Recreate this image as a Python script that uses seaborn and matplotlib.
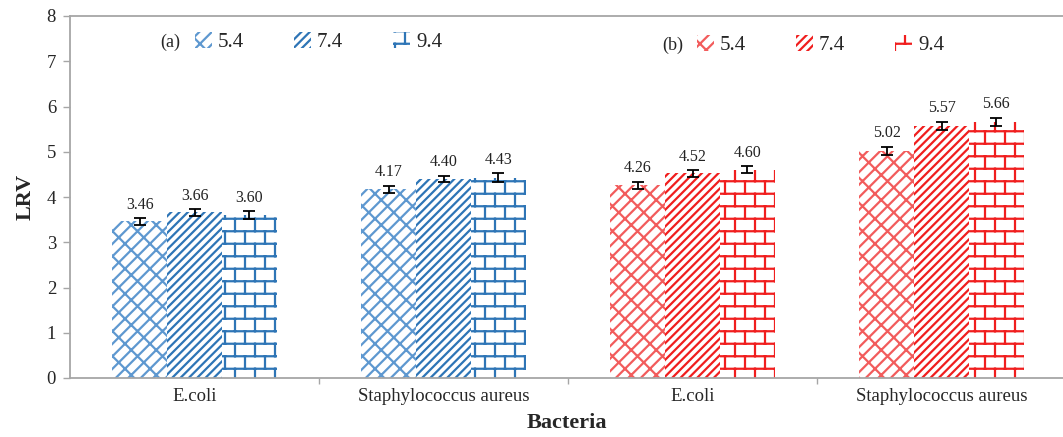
import warnings
warnings.filterwarnings("ignore")
import numpy as np
import pandas as pd
import matplotlib
matplotlib.use("Agg")
import matplotlib.pyplot as plt
import matplotlib.hatch as mhatch
from matplotlib.path import Path
from matplotlib.patches import Patch
import seaborn as sns

# ---------------- data ----------------
categories = ["E.coli", "Staphylococcus aureus", "E.coli", "Staphylococcus aureus"]
panels = ["a", "a", "b", "b"]
ph_levels = ["5.4", "7.4", "9.4"]
lrv_ph54 = [3.46, 4.17, 4.26, 5.02]
lrv_ph74 = [3.66, 4.40, 4.52, 5.57]
lrv_ph94 = [3.60, 4.43, 4.60, 5.66]
err_ph54 = [0.07, 0.08, 0.08, 0.09]
err_ph74 = [0.07, 0.07, 0.07, 0.09]
err_ph94 = [0.08, 0.10, 0.08, 0.09]
yticks = [0, 1, 2, 3, 4, 5, 6, 7, 8]


# ---------------- custom hatches ----------------
class BrickHatch(mhatch.HatchPatternBase):
    """'b' -> horizontal brick pattern"""
    rows, cols = 8, 5

    def __init__(self, hatch, density):
        self.on = hatch.count('b') > 0
        n, m = self.rows, self.cols
        self.num_vertices = (n * 2 + (n + 1) * m * 2) if self.on else 0

    def set_vertices_and_codes(self, vertices, codes):
        n, m = self.rows, self.cols
        v = []
        for i in range(n):
            y = (i + 0.5) / n
            v += [(0.0, y), (1.0, y)]
        for i in range(-1, n):
            y0 = (i + 0.5) / n
            y1 = (i + 1.5) / n
            for j in range(m):
                x = (j + 0.5 * (i % 2) + 0.25) / m
                v += [(x, y0), (x, y1)]
        vertices[:] = np.array(v)
        codes[0::2] = Path.MOVETO
        codes[1::2] = Path.LINETO


class DiagBrickHatch(mhatch.HatchPatternBase):
    """'d' -> diagonal brick pattern"""
    n, m = 8, 8

    def __init__(self, hatch, density):
        self.on = hatch.count('d') > 0
        self.num_vertices = len(self._verts()) if self.on else 0

    def _verts(self):
        n, m = self.n, self.m
        h = 1.0 / n
        v = []
        for k in range(-2 * n, 2 * n):
            c = (k + 0.5) / n
            v += [(-1.5, -1.5 + c), (2.5, 2.5 + c)]
            for j in range(-2 * m, 3 * m):
                u = (j + 0.5 * (k % 2)) / m
                v += [(u, u + c), (u - h / 2, u + c + h / 2)]
        return v

    def set_vertices_and_codes(self, vertices, codes):
        vertices[:] = np.array(self._verts())
        codes[0::2] = Path.MOVETO
        codes[1::2] = Path.LINETO


mhatch._hatch_types.append(BrickHatch)
mhatch._hatch_types.append(DiagBrickHatch)

# ---------------- style ----------------
sns.set_theme(style="white")
plt.rcParams['font.family'] = ['Liberation Serif', 'DejaVu Serif']
plt.rcParams['hatch.linewidth'] = 1.6

BLUE = "#2E75B6"
RED = "#F01E1E"
BLUE_LIGHT = "#5E98D0"
RED_LIGHT = "#F25C5C"
GRAY = "#A6A6A6"
hatches = {"5.4": "d", "7.4": "////", "9.4": "b"}


def bar_color(panel, ph):
    if panel == "a":
        return BLUE_LIGHT if ph == "5.4" else BLUE
    return RED_LIGHT if ph == "5.4" else RED


# ---------------- dataframe ----------------
cat_ids = [f"{c}|{p}" for c, p in zip(categories, panels)]
rows = []
for ph, vals, errs in zip(ph_levels, [lrv_ph54, lrv_ph74, lrv_ph94],
                          [err_ph54, err_ph74, err_ph94]):
    for cid, v, e in zip(cat_ids, vals, errs):
        rows.append({"cat": cid, "pH": ph, "LRV": v, "err": e})
df = pd.DataFrame(rows)

fig = plt.figure(figsize=(10.63, 4.37), dpi=100)
ax = fig.add_axes([70 / 1063, 1 - 378 / 437, 1 - 70 / 1063, (378 - 16) / 437])

sns.barplot(data=df, x="cat", y="LRV", hue="pH", order=cat_ids,
            hue_order=ph_levels, width=0.66, errorbar=None, ax=ax,
            palette=["white"] * 3, legend=False)

for ph, cont in zip(ph_levels, ax.containers):
    sub = df[df.pH == ph].set_index("cat").loc[cat_ids]
    xs, ys, es = [], [], []
    for bar, cid, (_, r) in zip(cont, cat_ids, sub.iterrows()):
        col = bar_color(cid.split("|")[1], ph)
        bar.set_facecolor("white")
        bar.set_edgecolor(col)
        bar.set_linewidth(0)
        bar.set_hatch(hatches[ph])
        xc = bar.get_x() + bar.get_width() / 2
        xs.append(xc)
        ys.append(r.LRV)
        es.append(r.err)
        ax.text(xc, r.LRV + r.err + 0.12, f"{r.LRV:.2f}", ha="center",
                va="bottom", fontsize=11.5, color="#222222")
    ax.errorbar(xs, ys, yerr=es, fmt="none", ecolor="black",
                elinewidth=1.3, capsize=4, capthick=1.3, zorder=5)

ax.set_ylim(0, 8)
ax.set_yticks(yticks)
ax.set_xlim(-0.5, -0.5 + (1063 - 70) / 249)
ax.set_xticks(range(len(categories)))
ax.set_xticklabels(categories, fontsize=13.5)
ax.set_xticks([0.5, 1.5, 2.5], minor=True)
ax.tick_params(axis="x", which="major", length=0, pad=7)
ax.tick_params(axis="x", which="minor", length=4, color=GRAY, width=1, direction="out", bottom=True)
ax.tick_params(axis="y", length=5, color=GRAY, width=1, direction="out", left=True, labelsize=13.5, pad=5)
for s in ["left", "bottom", "top"]:
    ax.spines[s].set_color(GRAY)
    ax.spines[s].set_linewidth(1.3)
ax.spines["right"].set_visible(False)

ax.set_ylabel("LRV", fontsize=16, fontweight="bold", labelpad=8)
ax.set_xlabel("Bacteria", fontsize=16, fontweight="bold", labelpad=6)

# ---------------- legends ----------------
def make_leg(panel, x, y, tag):
    handles = [Patch(facecolor="white", edgecolor=bar_color(panel, p), linewidth=0,
                     hatch=hatches[p]) for p in ph_levels]
    fig.text(x - 35 / 1063, y, tag, fontsize=13, va="center", ha="left")
    leg = fig.legend(handles, ph_levels, ncol=3, frameon=False, loc="center left",
                     bbox_to_anchor=(x, y), fontsize=15, handlelength=0.8,
                     handleheight=0.8, handletextpad=0.3, columnspacing=2.4,
                     borderaxespad=0, borderpad=0)
    return leg

leg1 = make_leg("a", 195 / 1063, 1 - 42 / 437, "(a)")
leg2 = make_leg("b", 697 / 1063, 1 - 45 / 437, "(b)")

fig.savefig("out.png", dpi=100)
